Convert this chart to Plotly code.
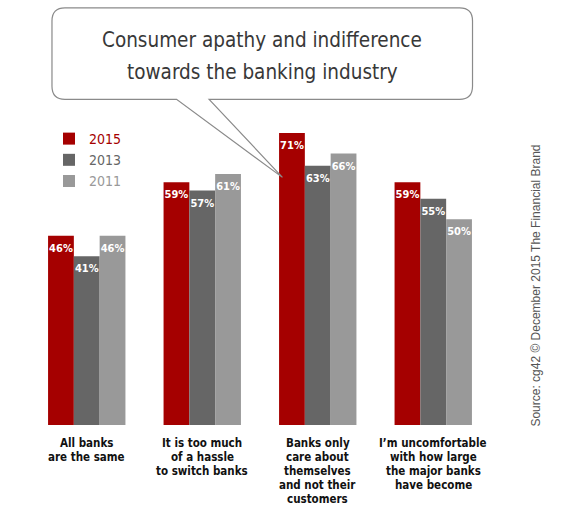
import plotly.graph_objects as go

# Data
categories = ["All banks\nare the same",
              "It is too much\nof a hassle\nto switch banks",
              "Banks only\ncare about\nthemselves\nand not their\ncustomers",
              "I\u2019m uncomfortable\nwith how large\nthe major banks\nhave become"]
years = ["2015", "2013", "2011"]
values_2015 = [46, 59, 71, 59]
values_2013 = [41, 57, 63, 55]
values_2011 = [46, 61, 66, 50]
colors = ["#a50000", "#666666", "#999999"]

title_lines = ["Consumer apathy and indifference", "towards the banking industry"]
source_text = "Source: cg42 \u00a9 December 2015 The Financial Brand"

W, H = 565, 514
# plot area in pixels
PX0, PX1 = 29, 491.5
PY0, PY1 = 100, 424.7

NARROW = "DejaVu Sans Condensed, Roboto, sans-serif"


def px(x):
    return (x - PX0) / (PX1 - PX0)


def py(y):
    return (PY1 - y) / (PY1 - PY0)


fig = go.Figure()

cat_ids = [c.split("\n")[0] for c in categories]
for year, vals, col in zip(years, [values_2015, values_2013, values_2011], colors):
    fig.add_trace(go.Bar(
        x=cat_ids,
        y=vals,
        name=f"<span style='color:{col}'>{year}</span>",
        marker=dict(color=col, line=dict(width=0)),
        offsetgroup=year,
        hoverinfo="skip",
    ))
    # value labels just under the top of each bar
    fig.add_trace(go.Scatter(
        x=cat_ids,
        y=vals,
        mode="markers+text",
        marker=dict(size=11, color="rgba(0,0,0,0)"),
        text=[f"{v}%" for v in vals],
        textposition="bottom center",
        textfont=dict(family=NARROW, size=11, color="white", weight="bold"),
        offsetgroup=year,
        showlegend=False,
        hoverinfo="skip",
        cliponaxis=False,
    ))

# speech bubble around the title
bx0, bx1, by0, by1, r = 52, 473, 8, 99.3, 13
tail_l, tail_r, tip = 176.7, 209.3, (282.7, 177.3)
pts = [
    ("M", tail_l, by1), ("L", bx0 + r, by1), ("Q", bx0, by1, bx0, by1 - r),
    ("L", bx0, by0 + r), ("Q", bx0, by0, bx0 + r, by0),
    ("L", bx1 - r, by0), ("Q", bx1, by0, bx1, by0 + r),
    ("L", bx1, by1 - r), ("Q", bx1, by1, bx1 - r, by1),
    ("L", tail_r, by1), ("L", tip[0], tip[1]), ("Z",),
]
path = ""
for p in pts:
    cmd = p[0]
    coords = p[1:]
    s = []
    for i in range(0, len(coords), 2):
        s.append(f"{px(coords[i]):.5f},{py(coords[i + 1]):.5f}")
    path += cmd + " ".join(s)

fig.add_shape(type="path", path=path, xref="paper", yref="paper",
              line=dict(color="#8a8a8a", width=1.2), fillcolor="white", layer="above")

annotations = []
for i, line in enumerate(title_lines):
    annotations.append(dict(
        text=line, x=px(262.5), y=py(40 + 32 * i), xref="paper", yref="paper",
        showarrow=False, xanchor="center", yanchor="middle",
        font=dict(family=NARROW, size=20.5, color="#383838")))

annotations.append(dict(
    text=source_text, x=px(537), y=py(285), xref="paper", yref="paper",
    showarrow=False, textangle=-90, xanchor="center", yanchor="middle",
    font=dict(family="Liberation Sans, Arial, sans-serif", size=12, color="#555555")))

# category labels, one annotation per line for tight line spacing
for cid, label in zip(cat_ids, categories):
    for i, line in enumerate(label.split("\n")):
        annotations.append(dict(
            text=line, x=cid, y=0, xref="x", yref="y", showarrow=False,
            xanchor="center", yanchor="middle", yshift=-(17.5 + 14 * i),
            font=dict(family=NARROW, size=11.5, color="#111111", weight="bold"),
        ))

fig.update_layout(
    width=W, height=H,
    margin=dict(l=PX0, r=W - PX1, t=PY0, b=H - PY1, pad=0),
    paper_bgcolor="white", plot_bgcolor="white",
    barmode="group", bargap=0.33, bargroupgap=0,
    scattermode="group", scattergap=0.33,
    showlegend=True,
    legend=dict(x=px(49), y=py(123), xanchor="left", yanchor="top",
                font=dict(family=NARROW, size=14), traceorder="normal",
                itemwidth=30, tracegroupgap=0, bgcolor="rgba(0,0,0,0)"),
    xaxis=dict(showticklabels=False, showgrid=False, zeroline=False, showline=False,
               ticks="", range=[-0.5, 3.5]),
    yaxis=dict(showticklabels=False, showgrid=False, zeroline=False, showline=False,
               ticks="", range=[0, (PY1 - PY0) / 4.11]),
    annotations=annotations,
)

fig.write_html("out.html", config={"displayModeBar": False},
               post_script="document.body.style.margin='0';")
